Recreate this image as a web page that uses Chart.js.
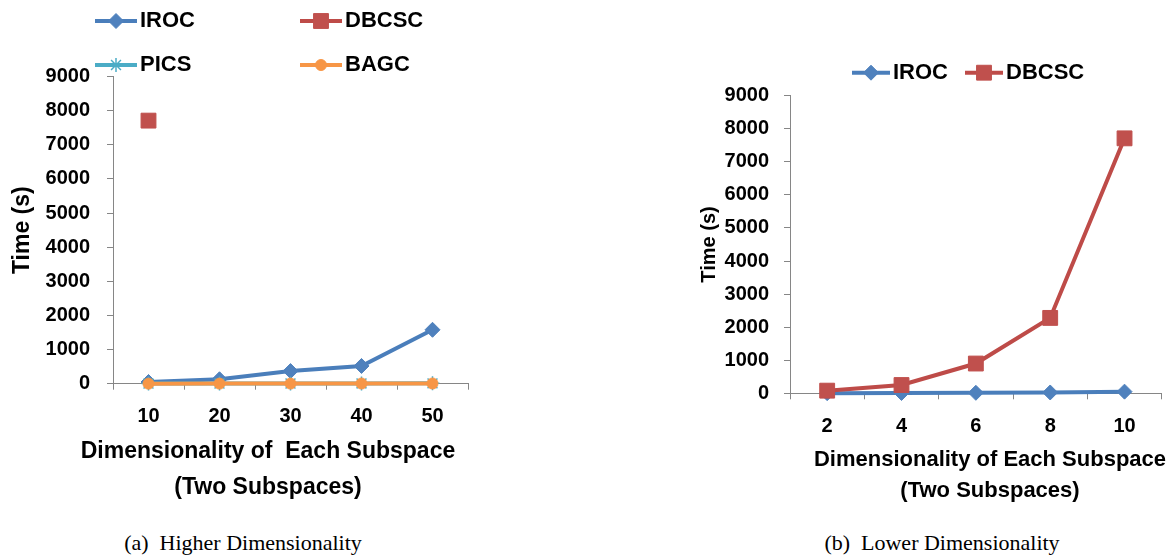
<!DOCTYPE html>
<html>
<head>
<meta charset="utf-8">
<script src="https://cdn.jsdelivr.net/npm/chart.js@4.4.1/dist/chart.umd.min.js"></script>
<style>
  body { margin: 0; background: #fff; width: 1175px; height: 557px; position: relative; overflow: hidden; }
  .wrap { position: absolute; top: 0; height: 520px; }
  #wrap-a { left: 0; width: 540px; }
  #wrap-b { left: 680px; width: 495px; }
  .caption { position: absolute; top: 530px; line-height: 26px; font-family: 'Liberation Serif', 'Times New Roman', serif; font-size: 22px; white-space: pre; transform: translateX(-50%); color: #000; }
</style>
</head>
<body>
<div class="wrap" id="wrap-a"><canvas id="chart-a"></canvas></div>
<div class="wrap" id="wrap-b"><canvas id="chart-b"></canvas></div>
<div class="caption" style="left:243px">(a)  Higher Dimensionality</div>
<div class="caption" style="left:942px">(b)  Lower Dimensionality</div>
<script>
// Données (a) : dimensionnalité élevée
const dimsHigh = ['10', '20', '30', '40', '50'];
const irocHigh = [50, 130, 370, 520, 1580];
const dbcscHigh = [7710, null, null, null, null];
const picsHigh = [3, 5, 6, 8, 10];
const bagcHigh = [2, 3, 4, 5, 6];

// Données (b) : dimensionnalité faible
const dimsLow = ['2', '4', '6', '8', '10'];
const irocLow = [5, 10, 15, 25, 50];
const dbcscLow = [80, 250, 900, 2280, 7710];

const yTicks = { min: 0, max: 9000, step: 1000 };
const xTitleLines = ['Dimensionality of  Each Subspace', '(Two Subspaces)'];
const xTitleLinesB = ['Dimensionality of Each Subspace', '(Two Subspaces)'];

const STYLE = {
  IROC: { line: '#4A7EBB', fill: '#4F81BD', point: 'rectRot', radius: 7.5 },
  DBCSC: { line: '#BE4B48', fill: '#C0504D', point: 'rect', radius: 10.5 },
  PICS: { line: '#4BACC6', fill: '#4BACC6', point: 'star', radius: 7 },
  BAGC: { line: '#F79646', fill: '#F79646', point: 'circle', radius: 5.5 }
};

const AXIS_GREY = '#868686';
const FONT = "'Liberation Sans', Arial, sans-serif";

function createDataset(label, data, order) {
  const s = STYLE[label];
  return {
    label,
    data,
    order,
    borderColor: s.line,
    backgroundColor: s.fill,
    borderWidth: 4,
    pointStyle: s.point,
    pointRadius: s.radius,
    pointBackgroundColor: s.fill,
    pointBorderColor: s.point === 'star' ? s.line : s.fill,
    pointBorderWidth: s.point === 'star' ? 1.5 : 1,
    tension: 0,
    clip: false,
    spanGaps: false
  };
}

// Légende façon Excel : trait + marqueur
const lineLegend = {
  id: 'lineLegend',
  afterDraw(chart, args, opts) {
    const ctx = chart.ctx;
    ctx.save();
    opts.items.forEach(item => {
      const ds = chart.data.datasets[item.index];
      ctx.strokeStyle = ds.borderColor;
      ctx.lineWidth = ds.borderWidth;
      ctx.beginPath();
      ctx.moveTo(item.x, item.y);
      ctx.lineTo(item.x + opts.lineLength, item.y);
      ctx.stroke();
      ctx.fillStyle = ds.pointBackgroundColor;
      ctx.strokeStyle = ds.pointBorderColor;
      ctx.lineWidth = ds.pointBorderWidth;
      Chart.helpers.drawPoint(ctx, { pointStyle: ds.pointStyle, rotation: 0, radius: ds.pointRadius, borderWidth: ds.pointBorderWidth }, item.x + opts.lineLength / 2, item.y);
      ctx.fillStyle = '#000';
      ctx.font = opts.font;
      ctx.textAlign = 'left';
      ctx.textBaseline = 'middle';
      ctx.fillText(ds.label, item.x + opts.lineLength + 3, item.y);
    });
    ctx.restore();
  }
};

// Titre de l'axe X sur deux lignes
const xCaption = {
  id: 'xCaption',
  afterDraw(chart, args, opts) {
    const ctx = chart.ctx;
    ctx.save();
    ctx.fillStyle = '#000';
    ctx.font = opts.font;
    ctx.textAlign = 'center';
    ctx.textBaseline = 'middle';
    opts.lines.forEach((text, i) => ctx.fillText(text, opts.x, opts.ys[i]));
    ctx.restore();
  }
};

function createChartConfig(p) {
  return {
    type: 'line',
    data: { labels: p.labels, datasets: p.datasets },
    plugins: [lineLegend, xCaption],
    options: {
      responsive: true,
      maintainAspectRatio: false,
      animation: false,
      layout: { padding: p.padding },
      plugins: {
        legend: { display: false },
        tooltip: { enabled: false },
        lineLegend: p.legend,
        xCaption: p.caption
      },
      scales: {
        x: {
          type: 'category',
          offset: true,
          afterFit: s => { s.height = p.xHeight; },
          border: { display: true, color: AXIS_GREY, width: 1 },
          grid: { display: true, offset: true, drawOnChartArea: false, drawTicks: true, tickLength: 6, color: AXIS_GREY },
          ticks: { color: '#000', padding: p.xPad, maxRotation: 0, font: { family: FONT, size: 20, weight: 'bold' } }
        },
        y: {
          min: yTicks.min,
          max: yTicks.max,
          afterFit: s => { s.width = p.yWidth; },
          border: { display: true, color: AXIS_GREY, width: 1 },
          grid: { display: true, drawOnChartArea: false, drawTicks: true, tickLength: 6, color: AXIS_GREY },
          ticks: { stepSize: yTicks.step, color: '#000', padding: p.yPad, callback: v => String(v), font: { family: FONT, size: 20, weight: 'bold' } },
          title: { display: true, text: 'Time (s)', color: '#000', padding: p.yTitlePad, font: { family: FONT, size: p.yTitleSize, weight: 'bold' } }
        }
      }
    }
  };
}

new Chart(document.getElementById('chart-a'), createChartConfig({
  labels: dimsHigh,
  datasets: [
    createDataset('IROC', irocHigh, 3),
    createDataset('DBCSC', dbcscHigh, 2),
    createDataset('PICS', picsHigh, 1),
    createDataset('BAGC', bagcHigh, 0)
  ],
  padding: { left: 0, right: 72, top: 76.6, bottom: 0 },
  xHeight: 136.3,
  yWidth: 113,
  xPad: 15,
  yPad: 17,
  yTitlePad: 9,
  yTitleSize: 23,
  legend: {
    lineLength: 42,
    font: `bold 22px ${FONT}`,
    items: [
      { index: 0, x: 95, y: 21 },
      { index: 1, x: 300, y: 21 },
      { index: 2, x: 95, y: 65 },
      { index: 3, x: 300, y: 65 }
    ]
  },
  caption: { font: `bold 23px ${FONT}`, lines: xTitleLines, x: 268, ys: [452, 488] }
}));

new Chart(document.getElementById('chart-b'), createChartConfig({
  labels: dimsLow,
  datasets: [
    createDataset('IROC', irocLow, 1),
    createDataset('DBCSC', dbcscLow, 0)
  ],
  padding: { left: 0, right: 13.3, top: 95.7, bottom: 0 },
  xHeight: 126.7,
  yWidth: 110,
  xPad: 15,
  yPad: 15,
  yTitlePad: 17,
  yTitleSize: 20,
  legend: {
    lineLength: 38,
    font: `bold 22px ${FONT}`,
    items: [
      { index: 0, x: 172, y: 72.7 },
      { index: 1, x: 285, y: 72.7 }
    ]
  },
  caption: { font: `bold 22px ${FONT}`, lines: xTitleLinesB, x: 310, ys: [460, 491] }
}));
</script>
</body>
</html>
